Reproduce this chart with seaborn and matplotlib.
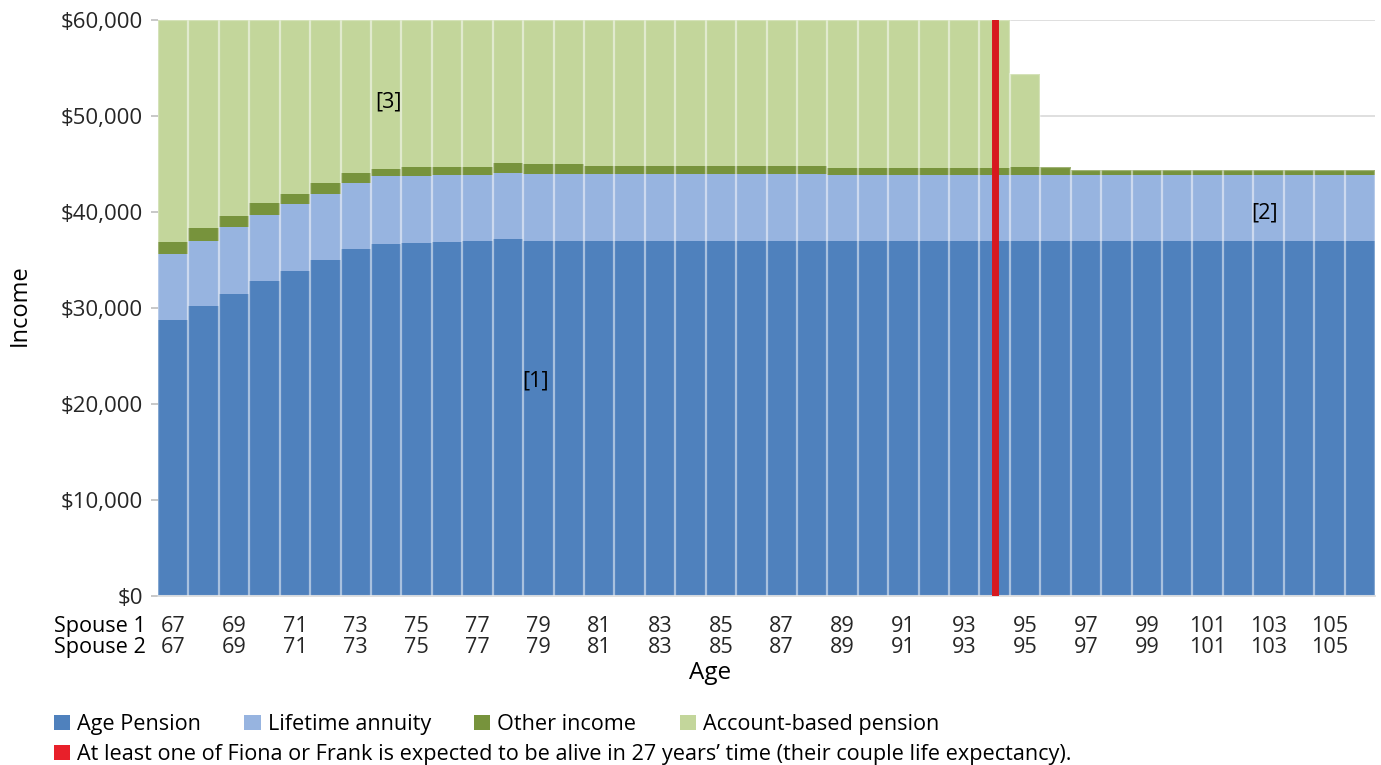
import numpy as np
import pandas as pd
import matplotlib
matplotlib.use("Agg")
import matplotlib.pyplot as plt
import seaborn as sns
from matplotlib.patches import Patch
from matplotlib.ticker import FuncFormatter, MultipleLocator

# ---------------- data ----------------
ages = [67, 68, 69, 70, 71, 72, 73, 74, 75, 76, 77, 78, 79, 80, 81, 82, 83, 84, 85, 86,
        87, 88, 89, 90, 91, 92, 93, 94, 95, 96, 97, 98, 99, 100, 101, 102, 103, 104, 105, 106]

age_pension = [28700, 30200, 31500, 32800, 33900, 35000, 36100, 36700, 36750, 36900,
               36950, 37200, 36950, 36950, 36950, 36950, 36950, 36950, 36950, 36950,
               36950, 36950, 36950, 36950, 36950, 36950, 36950, 36950, 36950, 36950,
               36950, 36950, 36950, 36950, 36950, 36950, 36950, 36950, 36950, 36950]

lifetime_annuity = [6900, 6800, 6900, 6900, 6900, 6900, 6900, 7000, 7000, 6950,
                    6950, 6900, 7050, 7050, 7000, 7000, 7000, 7000, 7000, 7000,
                    7000, 7000, 6900, 6900, 6900, 6900, 6900, 6900, 6900, 6900,
                    6900, 6900, 6900, 6900, 6900, 6900, 6900, 6900, 6900, 6900]

other_income = [1300, 1300, 1200, 1200, 1100, 1100, 1100, 800, 950, 850,
                800, 1000, 1000, 1000, 800, 800, 800, 800, 800, 800,
                800, 800, 700, 700, 700, 700, 700, 700, 850, 850,
                550, 550, 550, 550, 550, 550, 550, 550, 550, 550]

account_based_pension = [23100, 21700, 20400, 19100, 18100, 17000, 15900, 15500, 15300, 15300,
                         15300, 14900, 15000, 15000, 15250, 15250, 15250, 15250, 15250, 15250,
                         15250, 15250, 15450, 15450, 15450, 15450, 15450, 15450, 9700, 0,
                         0, 0, 0, 0, 0, 0, 0, 0, 0, 0]

spouse1_labels = ["67", "69", "71", "73", "75", "77", "79", "81", "83", "85",
                  "87", "89", "91", "93", "95", "97", "99", "101", "103", "105"]
spouse2_labels = ["67", "69", "71", "73", "75", "77", "79", "81", "83", "85",
                  "87", "89", "91", "93", "95", "97", "99", "101", "103", "105"]

couple_life_expectancy_age = 94

series_names = ["Age Pension", "Lifetime annuity", "Other income", "Account-based pension"]
series_values = [age_pension, lifetime_annuity, other_income, account_based_pension]
series_colors = ["#4F81BD", "#97B4E0", "#77933C", "#C3D69B"]
line_color = "#D7191F"
legend_line_color = "#E8202A"
line_label = "At least one of Fiona or Frank is expected to be alive in 27 years\u2019 time (their couple life expectancy)."

# ---------------- styling ----------------
sns.set_style("white")
plt.rcParams["font.family"] = ["Open Sans", "DejaVu Sans"]
plt.rcParams["text.color"] = "black"

FS = 15.6

W, H = 1381, 765
fig = plt.figure(figsize=(W / 100, H / 100), dpi=100)
ax = fig.add_axes([158 / W, 1 - 596 / H, (1375 - 158) / W, (596 - 20) / H])

df = pd.DataFrame({"age": [str(a) for a in ages]})
for name, vals in zip(series_names, series_values):
    df[name] = vals
df["total"] = df[series_names].sum(axis=1)

bottom = np.zeros(len(ages))
for name, color in zip(series_names, series_colors):
    sns.barplot(data=df, x="age", y=name, order=df["age"], bottom=bottom, color=color,
                saturation=1, width=1.0, errorbar=None, ax=ax,
                edgecolor="none", linewidth=0, zorder=2)
    bottom = bottom + df[name].to_numpy()

# light separators between bars
sns.barplot(data=df, x="age", y="total", order=df["age"], fill=False, color="white",
            width=1.0, errorbar=None, ax=ax, edgecolor=(1, 1, 1, 0.3),
            linewidth=1.6, zorder=3)

# life expectancy line
ax.axvline(ages.index(couple_life_expectancy_age), color=line_color, lw=5, zorder=5)

# axes
ax.set_xlim(-0.5, len(ages) - 0.5)
ax.set_ylim(0, 60000)
ax.yaxis.set_major_locator(MultipleLocator(10000))
ax.yaxis.set_major_formatter(FuncFormatter(lambda v, p: "${:,.0f}".format(v)))
ax.grid(axis="y", color="#D9D9D9", lw=1.2, zorder=0)
ax.set_axisbelow(True)
for s in ["top", "right", "left"]:
    ax.spines[s].set_visible(False)
ax.spines["bottom"].set_color("#D9D9D9")
ax.spines["bottom"].set_linewidth(1.2)

tick_pos = [ages.index(int(a)) for a in spouse1_labels]
ax.set_xticks(tick_pos)
ax.set_xticklabels([a + "\n" + b for a, b in zip(spouse1_labels, spouse2_labels)],
                   fontsize=FS, linespacing=0.98)
ax.tick_params(axis="x", length=0, pad=14.5)
ax.tick_params(axis="y", length=5, color="#BFBFBF", width=1.2, labelsize=16, pad=6, left=True)
ax.set_xlabel("")
ax.set_ylabel("")

fig.text(20 / W, 1 - 305 / H, "Income", rotation=90, fontsize=17, ha="center", va="center")
fig.text(710 / W, 1 - 673 / H, "Age", fontsize=17.5, ha="center", va="center")

# annotations
ax.text(7.06, 51460, "[3]", fontsize=FS, ha="center", va="center", zorder=6)
ax.text(11.92, 22400, "[1]", fontsize=FS, ha="center", va="center", zorder=6)
ax.text(35.88, 39900, "[2]", fontsize=FS, ha="center", va="center", zorder=6)

# "Spouse" row labels aligned with tick labels
fig.canvas.draw()
bb = ax.get_xticklabels()[0].get_window_extent()
fig.text(54 / W, bb.y1 / fig.bbox.height, "Spouse 1\nSpouse 2", fontsize=FS,
         linespacing=0.98, ha="left", va="top")

# legends
handles = [Patch(facecolor=c, edgecolor="none") for c in series_colors]
leg1 = fig.legend(handles, series_names, loc="upper left", bbox_to_anchor=(54 / W, 1 - 714 / H),
                  ncol=4, frameon=False, fontsize=FS, handlelength=0.75, handleheight=0.75,
                  handletextpad=0.32, columnspacing=2.0, borderpad=0, borderaxespad=0)
leg2 = fig.legend([Patch(facecolor=legend_line_color, edgecolor="none")], [line_label],
                  loc="upper left", bbox_to_anchor=(54 / W, 1 - 744 / H), frameon=False,
                  fontsize=FS, handlelength=0.75, handleheight=0.75, handletextpad=0.32,
                  borderpad=0, borderaxespad=0)

fig.savefig("out.png", dpi=100)
